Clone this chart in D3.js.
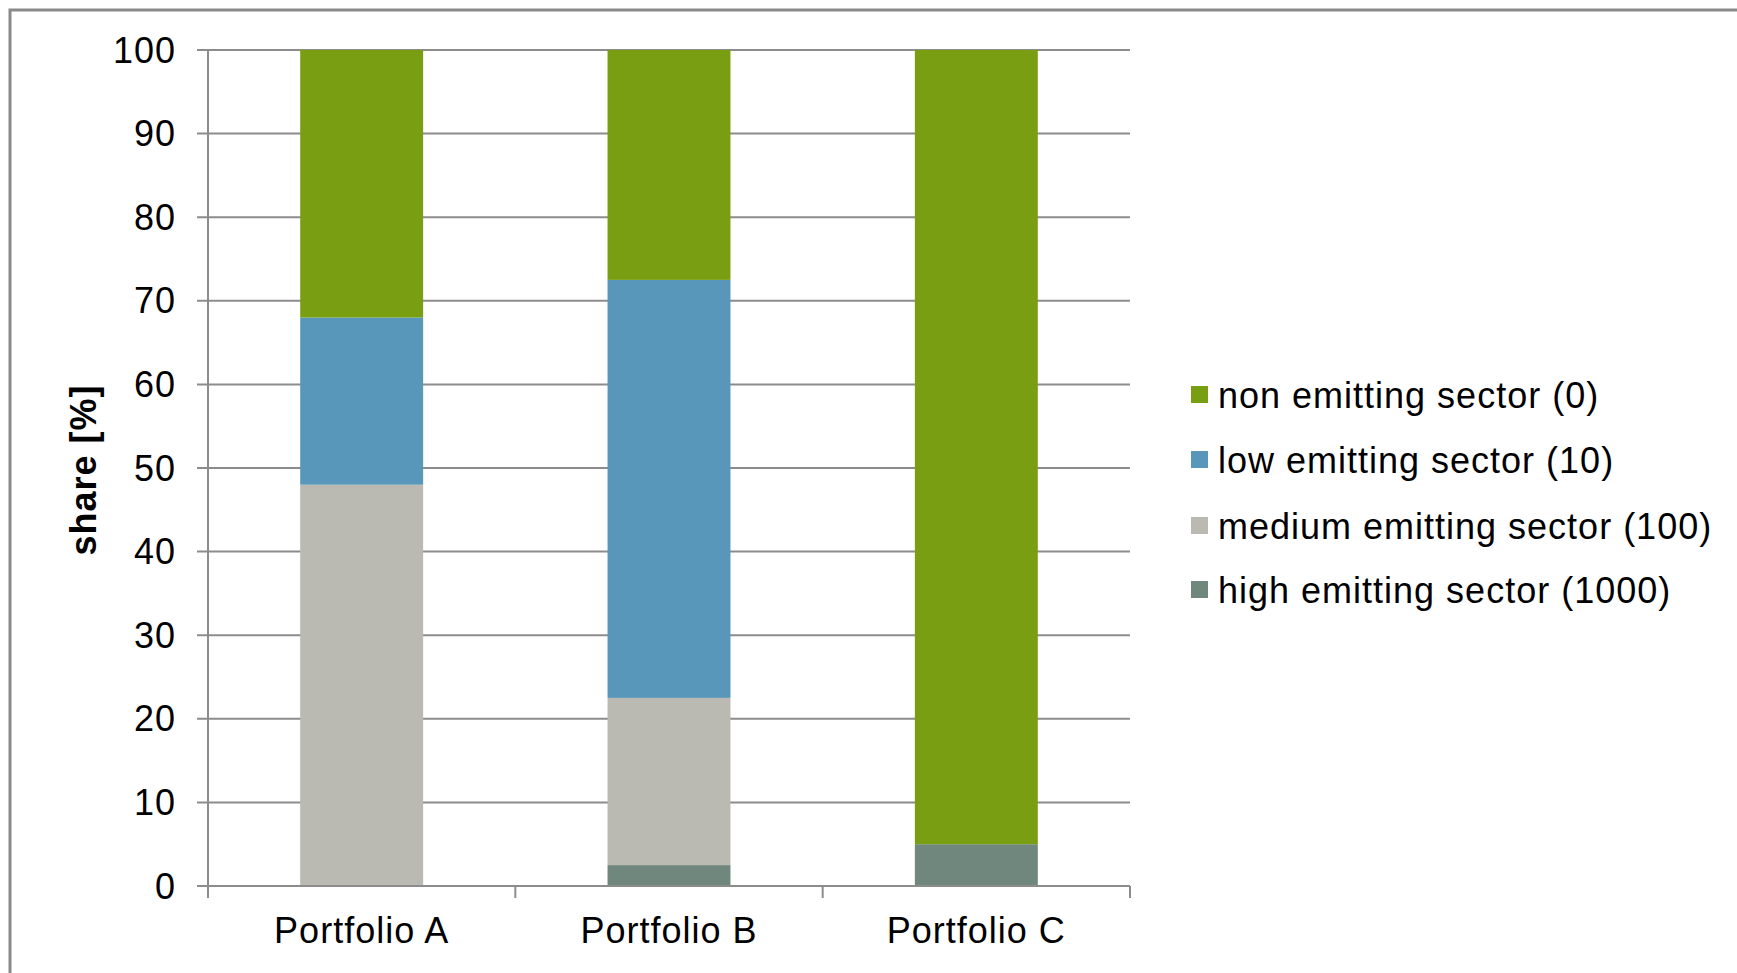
<!DOCTYPE html>
<html>
<head>
<meta charset="utf-8">
<script src="https://cdn.jsdelivr.net/npm/d3@7"></script>
<style>
  html, body { margin: 0; padding: 0; background: #fff; }
  svg { display: block; font-family: "Liberation Sans", Arial, sans-serif; }
  svg text { letter-spacing: 1px; }
</style>
</head>
<body>
<svg id="chart" width="1737" height="973"></svg>
<script>
// Portfolio composition by emission class
const portfolios = ["Portfolio A", "Portfolio B", "Portfolio C"];
const seriesNames = [
  "high emitting sector (1000)",
  "medium emitting sector (100)",
  "low emitting sector (10)",
  "non emitting sector (0)"
];
const highShare   = [0, 2.5, 5];
const mediumShare = [48, 20, 0];
const lowShare    = [20, 50, 0];
const nonShare    = [32, 27.5, 95];
const yTicks = [0, 10, 20, 30, 40, 50, 60, 70, 80, 90, 100];
const seriesColors = ["#6f877c", "#bab9b2", "#5897b9", "#799e12"];

const rows = portfolios.map((p, i) => ({
  portfolio: p,
  [seriesNames[0]]: highShare[i],
  [seriesNames[1]]: mediumShare[i],
  [seriesNames[2]]: lowShare[i],
  [seriesNames[3]]: nonShare[i]
}));

const svg = d3.select("#chart");
const plot = { left: 208, right: 1130, top: 50, bottom: 886 };
const axisColor = "#8c8c8c";
const fontSize = 36;

// outer chart frame (runs past the right and bottom edges)
svg.append("rect")
  .attr("x", 10).attr("y", 10)
  .attr("width", 1800).attr("height", 1000)
  .attr("fill", "none").attr("stroke", "#8a8a8a").attr("stroke-width", 3);

const x = d3.scaleBand().domain(portfolios).range([plot.left, plot.right]).paddingInner(0).paddingOuter(0);
const y = d3.scaleLinear().domain([0, 100]).range([plot.bottom, plot.top]);
const barWidth = x.bandwidth() / 2.5;

// horizontal gridlines with short outside ticks
svg.append("g").selectAll("line").data(yTicks).join("line")
  .attr("x1", plot.left - 11).attr("x2", plot.right)
  .attr("y1", d => y(d)).attr("y2", d => y(d))
  .attr("stroke", axisColor).attr("stroke-width", 2);

// y tick labels
svg.append("g").selectAll("text").data(yTicks).join("text")
  .attr("x", 176).attr("y", d => y(d))
  .attr("dy", "0.35em")
  .attr("text-anchor", "end")
  .attr("font-size", fontSize)
  .attr("fill", "#000")
  .text(d => d);

// stacked bars
const stack = d3.stack().keys(seriesNames);
const layers = stack(rows);
const color = d3.scaleOrdinal().domain(seriesNames).range(seriesColors);

svg.append("g").selectAll("g").data(layers).join("g")
  .attr("fill", d => color(d.key))
  .selectAll("rect").data(d => d.filter(s => s[1] - s[0] > 0)).join("rect")
  .attr("x", d => x(d.data.portfolio) + (x.bandwidth() - barWidth) / 2)
  .attr("width", barWidth)
  .attr("y", d => y(d[1]))
  .attr("height", d => y(d[0]) - y(d[1]));

// y axis line
svg.append("line")
  .attr("x1", plot.left).attr("x2", plot.left)
  .attr("y1", plot.top).attr("y2", plot.bottom + 12)
  .attr("stroke", axisColor).attr("stroke-width", 2);

// x axis line and category boundary ticks
svg.append("line")
  .attr("x1", plot.left).attr("x2", plot.right)
  .attr("y1", plot.bottom).attr("y2", plot.bottom)
  .attr("stroke", axisColor).attr("stroke-width", 2);
const boundaries = portfolios.map(p => x(p)).concat([plot.right]);
svg.append("g").selectAll("line").data(boundaries).join("line")
  .attr("x1", d => d).attr("x2", d => d)
  .attr("y1", plot.bottom).attr("y2", plot.bottom + 12)
  .attr("stroke", axisColor).attr("stroke-width", 2);

// category labels
svg.append("g").selectAll("text").data(portfolios).join("text")
  .attr("x", d => x(d) + x.bandwidth() / 2)
  .attr("y", 943)
  .attr("text-anchor", "middle")
  .attr("font-size", fontSize)
  .attr("fill", "#000")
  .text(d => d);

// y axis title
svg.append("text")
  .attr("transform", "translate(96,470) rotate(-90)")
  .attr("text-anchor", "middle")
  .attr("font-size", fontSize)
  .attr("font-weight", "bold")
  .attr("fill", "#000")
  .text("share [%]");

// legend, top entry is the top stack layer
const legendItems = seriesNames.slice().reverse();
const legendY = [395, 460, 526, 590];
const legend = svg.append("g").selectAll("g").data(legendItems).join("g")
  .attr("transform", (d, i) => `translate(1191,${legendY[i]})`);
legend.append("rect")
  .attr("x", 0).attr("y", -9).attr("width", 17).attr("height", 17)
  .attr("fill", d => color(d));
legend.append("text")
  .attr("x", 27).attr("y", 0).attr("dy", "0.35em")
  .attr("font-size", fontSize)
  .attr("fill", "#000")
  .text(d => d);
</script>
</body>
</html>
